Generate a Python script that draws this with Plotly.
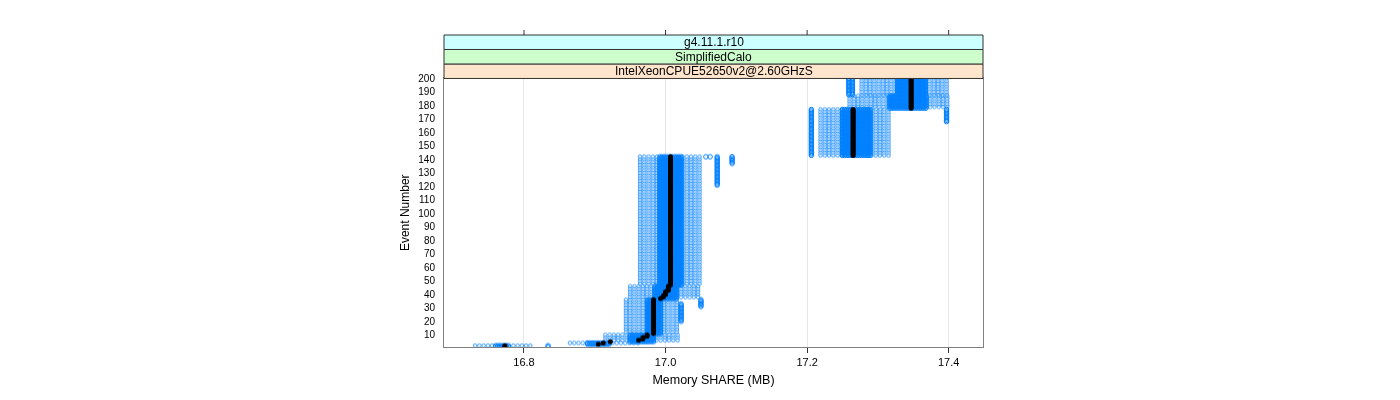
import plotly.graph_objects as go

# ---------------- data ----------------
x_ticks = [16.8, 17.0, 17.2, 17.4]
x_tick_labels = ["16.8", "17.0", "17.2", "17.4"]
y_ticks = [10, 20, 30, 40, 50, 60, 70, 80, 90, 100,
           110, 120, 130, 140, 150, 160, 170, 180, 190, 200]

strip_labels = ["g4.11.1.r10", "SimplifiedCalo", "IntelXeonCPUE52650v2@2.60GHzS"]
strip_colors = ["#ccffff", "#ccffcc", "#ffe5cc"]

# blocks of per-run measurements (event range, value range, dense core range)
blk_ev_lo   = [1, 3, 5, 11, 37, 47, 143, 178, 188]
blk_ev_hi   = [2, 4, 10, 36, 46, 142, 177, 187, 200]
blk_x_lo    = [16.731, 16.865, 16.915, 16.944, 16.950, 16.964, 17.219, 17.260, 17.277]
blk_x_hi    = [16.811, 16.964, 17.020, 17.020, 17.051, 17.051, 17.319, 17.401, 17.401]
blk_core_lo = [16.760, 16.890, 16.950, 16.975, 16.985, 16.992, 17.250, 17.317, 17.328]
blk_core_hi = [16.780, 16.920, 16.985, 16.995, 17.015, 17.023, 17.289, 17.368, 17.369]

# isolated value columns (value, first event, last event)
col_x     = [16.834, 17.022, 17.050, 17.057, 17.063, 17.073, 17.094, 17.206, 17.259, 17.264, 17.397]
col_ev_lo = [1, 20, 31, 142, 142, 121, 137, 143, 188, 188, 168]
col_ev_hi = [2, 33, 36, 142, 142, 142, 142, 177, 200, 200, 177]

# median per event (segments)
med_ev_lo = [1, 3, 4, 5, 6, 7, 9, 11, 37, 38, 40, 43, 47, 143, 178]
med_ev_hi = [2, 3, 4, 5, 6, 8, 10, 36, 37, 39, 42, 46, 142, 177, 200]
med_x     = [16.773, 16.905, 16.912, 16.922, 16.962, 16.968, 16.974, 16.983,
             16.993, 16.997, 17.000, 17.004, 17.007, 17.265, 17.347]

MEM_STEP = 0.006      # quantisation of the periphery values
CORE_STEP = 0.003     # quantisation of the dense core values
PERIPH_EVENT_EVERY = 2  # periphery values are only seen in some events

# ---------------- expand into points ----------------
px, py = [], []
cx, cy = [], []
for lo, hi, xl, xh, cl, ch in zip(blk_ev_lo, blk_ev_hi, blk_x_lo, blk_x_hi,
                                   blk_core_lo, blk_core_hi):
    v = xl
    while v <= xh + 1e-9:
        if not (cl - 1e-9 <= v <= ch + 1e-9):
            for e in range(hi, lo - 1, -PERIPH_EVENT_EVERY):
                px.append(round(v, 4))
                py.append(e)
        v += MEM_STEP
    v = cl
    while v <= ch + 1e-9:
        for e in range(lo, hi + 1):
            cx.append(round(v, 4))
            cy.append(e)
        v += CORE_STEP
for c, lo, hi in zip(col_x, col_ev_lo, col_ev_hi):
    for e in range(lo, hi + 1):
        cx.append(c)
        cy.append(e)

mx, my = [], []
for lo, hi, v in zip(med_ev_lo, med_ev_hi, med_x):
    for e in range(lo, hi + 1):
        mx.append(v)
        my.append(e)

# ---------------- figure ----------------
FONT = "Liberation Sans, Arial, Helvetica, sans-serif"
BLUE = "#0080ff"
fig = go.Figure()
fig.add_trace(go.Scatter(
    x=px, y=py, mode="markers",
    marker=dict(symbol="circle-open", size=3.6, color=BLUE,
                line=dict(width=1, color=BLUE)),
    opacity=0.8, hoverinfo="skip", showlegend=False))
fig.add_trace(go.Scatter(
    x=cx, y=cy, mode="markers",
    marker=dict(symbol="circle-open", size=4.5, color=BLUE,
                line=dict(width=1, color=BLUE)),
    hoverinfo="skip", showlegend=False))
fig.add_trace(go.Scatter(
    x=mx, y=my, mode="markers",
    marker=dict(symbol="circle", size=5, color="black"),
    hoverinfo="skip", showlegend=False))

# page body has an 8px margin -> figure is offset by 8px
W, H = 1392, 392
L, T = 435.5, 27
PLOT_H = 268.8
B = H - (347.3 - 8)
R = W - (983.5 - 8)
H_TOTAL = H - T - B
plot_frac = PLOT_H / H_TOTAL
strip_h = 14.5 / H_TOTAL

shapes = []
annotations = []
for i, (lab, colr) in enumerate(zip(reversed(strip_labels), reversed(strip_colors))):
    y0 = plot_frac + i * strip_h
    y1 = y0 + strip_h
    shapes.append(dict(type="rect", xref="paper", yref="paper", x0=0, x1=1,
                       y0=y0, y1=y1, fillcolor=colr,
                       line=dict(color="#333333", width=1), layer="above"))
    annotations.append(dict(text=lab, xref="paper", yref="paper", x=0.5,
                            y=(y0 + y1) / 2, showarrow=False,
                            font=dict(family=FONT, size=12, color="black"),
                            xanchor="center", yanchor="middle"))
for t in x_ticks:
    shapes.append(dict(type="line", xref="x", yref="paper", x0=t, x1=t,
                       y0=1, y1=1 + 5 / H_TOTAL,
                       line=dict(color="#333333", width=1)))

fig.update_layout(
    width=W, height=H,
    margin=dict(l=L, r=R, t=T, b=B, pad=0),
    paper_bgcolor="white", plot_bgcolor="white",
    font=dict(family=FONT, size=11, color="black"),
    shapes=shapes, annotations=annotations,
    xaxis=dict(range=[16.687, 17.4485], tickvals=x_ticks, ticktext=x_tick_labels,
               ticks="outside", ticklen=5, tickcolor="#333333",
               showgrid=True, gridcolor="#e6e6e6", gridwidth=1, zeroline=False,
               showline=True, linecolor="#808080", mirror=True,
               tickfont=dict(size=11),
               title=dict(text="Memory SHARE (MB)", font=dict(size=12.5), standoff=8)),
    yaxis=dict(range=[1, 200], domain=[0, plot_frac], tickvals=y_ticks,
               ticks="outside", ticklen=6, tickcolor="rgba(0,0,0,0)",
               showgrid=False, zeroline=False,
               showline=True, linecolor="#808080", mirror=True,
               tickfont=dict(size=10),
               title=dict(text="Event Number", font=dict(size=12), standoff=6)),
)

fig.write_html("out.html")
